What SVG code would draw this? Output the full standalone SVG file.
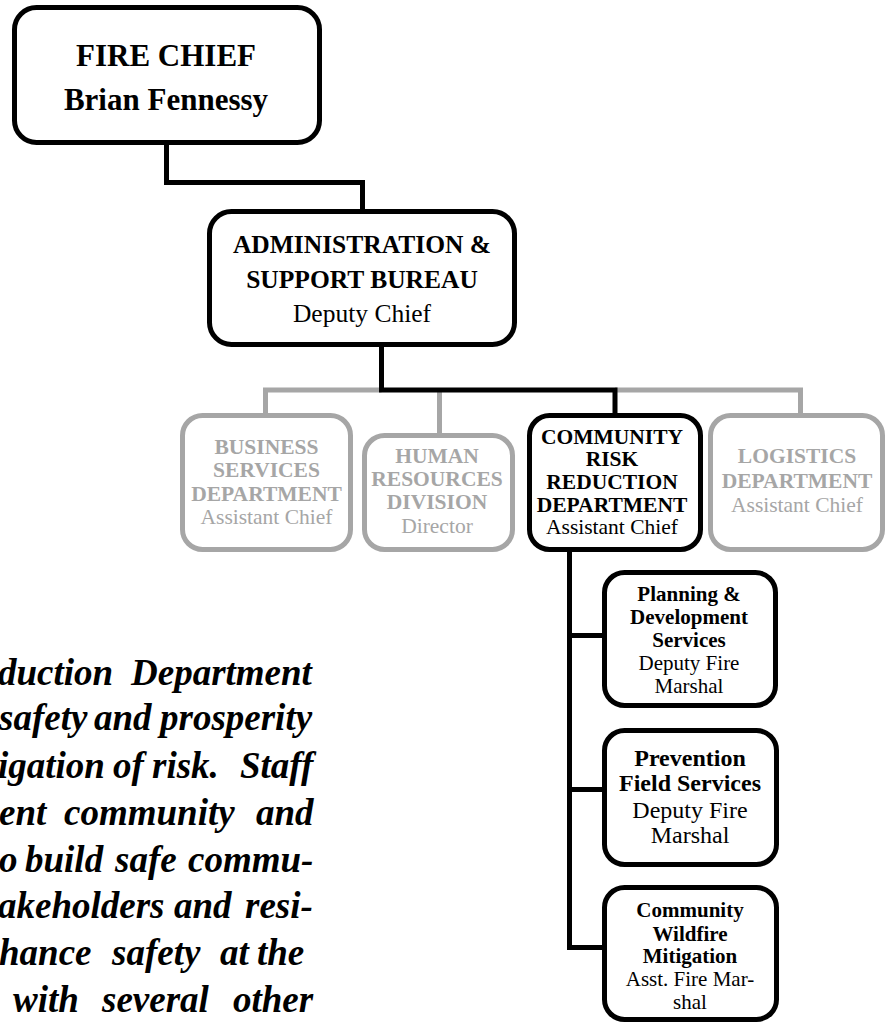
<svg xmlns="http://www.w3.org/2000/svg" width="890" height="1023" viewBox="0 0 890 1023">
  <style>
    .box { fill: #ffffff; stroke: #000000; stroke-width: 5; }
    .box-dim { fill: #ffffff; stroke: #a6a6a6; stroke-width: 5; }
    .link { fill: none; stroke: #000000; stroke-width: 5; stroke-linejoin: miter; }
    .link-dim { fill: none; stroke: #a6a6a6; stroke-width: 5; stroke-linejoin: miter; }
    text { font-family: "Liberation Serif", "Times New Roman", serif; text-anchor: middle; fill: #000000; }
    .dim text { fill: #a6a6a6; }
    .b { font-weight: bold; }
    .chief { font-size: 31px; }
    .bureau { font-size: 25.5px; }
    .dept { font-size: 21.5px; }
    .sect { font-size: 21px; }
    .sect-lg { font-size: 24px; }
    .para { font-size: 37px; font-weight: bold; font-style: italic; text-anchor: start; }
  </style>

  <!-- connectors -->
  <g id="connectors">
    <path class="link-dim" d="M265.5 415.5 V390 H381.5"/>
    <path class="link-dim" d="M439.5 390 V435.5"/>
    <path class="link-dim" d="M615 390 H800.5 V415.5"/>
    <path class="link" d="M166.5 142.5 V182.5 H362.5 V211.5"/>
    <path class="link" d="M381.5 344.5 V390 H615 V415.5"/>
    <path class="link" d="M569.5 549.5 V947.5 H604.5"/>
    <path class="link" d="M569.5 635.5 H604.5"/>
    <path class="link" d="M569.5 789.5 H604.5"/>
  </g>

  <!-- Fire Chief -->
  <g id="fire-chief">
    <rect class="box" x="14.5" y="7.5" width="305" height="135" rx="22"/>
    <text class="b chief" x="166" y="66">FIRE CHIEF</text>
    <text class="b chief" x="166" y="110">Brian Fennessy</text>
  </g>

  <!-- Administration & Support Bureau -->
  <g id="admin-support">
    <rect class="box" x="209.5" y="211.5" width="305" height="133" rx="22"/>
    <text class="b bureau" x="362" y="253">ADMINISTRATION &amp;</text>
    <text class="b bureau" x="362" y="288">SUPPORT BUREAU</text>
    <text class="bureau" x="362" y="322">Deputy Chief</text>
  </g>

  <!-- Business Services -->
  <g id="business-services" class="dim">
    <rect class="box-dim" x="182.5" y="415.5" width="168" height="134" rx="20"/>
    <text class="b dept" x="266.5" y="454">BUSINESS</text>
    <text class="b dept" x="266.5" y="477">SERVICES</text>
    <text class="b dept" x="266.5" y="500.5">DEPARTMENT</text>
    <text class="dept" x="266.5" y="524">Assistant Chief</text>
  </g>

  <!-- Human Resources -->
  <g id="human-resources" class="dim">
    <rect class="box-dim" x="364.5" y="435.5" width="148" height="114" rx="20"/>
    <text class="b dept" x="437" y="462.5">HUMAN</text>
    <text class="b dept" x="437" y="486">RESOURCES</text>
    <text class="b dept" x="437" y="509">DIVISION</text>
    <text class="dept" x="437" y="532.5">Director</text>
  </g>

  <!-- Community Risk Reduction -->
  <g id="community-risk-reduction">
    <rect class="box" x="529.5" y="415.5" width="171" height="134" rx="20"/>
    <text class="b dept" x="612" y="443.5">COMMUNITY</text>
    <text class="b dept" x="612" y="466">RISK</text>
    <text class="b dept" x="612" y="488.5">REDUCTION</text>
    <text class="b dept" x="612" y="511.5">DEPARTMENT</text>
    <text class="dept" x="612" y="533.5">Assistant Chief</text>
  </g>

  <!-- Logistics -->
  <g id="logistics" class="dim">
    <rect class="box-dim" x="710.5" y="415.5" width="172" height="134" rx="20"/>
    <text class="b dept" x="797" y="463">LOGISTICS</text>
    <text class="b dept" x="797" y="488">DEPARTMENT</text>
    <text class="dept" x="797" y="512">Assistant Chief</text>
  </g>

  <!-- Planning & Development Services -->
  <g id="planning-development">
    <rect class="box" x="604.5" y="572.5" width="171" height="133" rx="20"/>
    <text class="b sect" x="689" y="600.5">Planning &amp;</text>
    <text class="b sect" x="689" y="623.5">Development</text>
    <text class="b sect" x="689" y="646.5">Services</text>
    <text class="sect" x="689" y="670">Deputy Fire</text>
    <text class="sect" x="689" y="692.5">Marshal</text>
  </g>

  <!-- Prevention Field Services -->
  <g id="prevention-field">
    <rect class="box" x="604.5" y="730.5" width="172" height="134" rx="20"/>
    <text class="b sect-lg" x="690" y="766">Prevention</text>
    <text class="b sect-lg" x="690" y="791">Field Services</text>
    <text class="sect-lg" x="690" y="818">Deputy Fire</text>
    <text class="sect-lg" x="690" y="843">Marshal</text>
  </g>

  <!-- Community Wildfire Mitigation -->
  <g id="wildfire-mitigation">
    <rect class="box" x="604.5" y="887.5" width="172" height="132" rx="20"/>
    <text class="b sect" x="690" y="917">Community</text>
    <text class="b sect" x="690" y="940.5">Wildfire</text>
    <text class="b sect" x="690" y="963">Mitigation</text>
    <text class="sect" x="690" y="986">Asst. Fire Mar-</text>
    <text class="sect" x="690" y="1008.5">shal</text>
  </g>

  <!-- justified description paragraph, starting at the left edge -->
  <g id="description">
    <text class="para" y="685"><tspan x="-2">duction</tspan><tspan x="131">Department</tspan></text>
    <text class="para" y="730"><tspan x="-1">safety</tspan><tspan x="94">and</tspan><tspan x="160">prosperity</tspan></text>
    <text class="para" y="778"><tspan x="-2">igation</tspan><tspan x="113">of</tspan><tspan x="152">risk.</tspan><tspan x="240">Staff</tspan></text>
    <text class="para" y="825"><tspan x="-1">ent</tspan><tspan x="64">community</tspan><tspan x="256">and</tspan></text>
    <text class="para" y="872"><tspan x="-1">o</tspan><tspan x="25">build</tspan><tspan x="115">safe</tspan><tspan x="188">commu-</tspan></text>
    <text class="para" y="918"><tspan x="-2">akeholders</tspan><tspan x="174">and</tspan><tspan x="245">resi-</tspan></text>
    <text class="para" y="965"><tspan x="-1">hance</tspan><tspan x="112">safety</tspan><tspan x="220">at</tspan><tspan x="257">the</tspan></text>
    <text class="para" y="1012"><tspan x="13">with</tspan><tspan x="102">several</tspan><tspan x="233">other</tspan></text>
  </g>
</svg>
